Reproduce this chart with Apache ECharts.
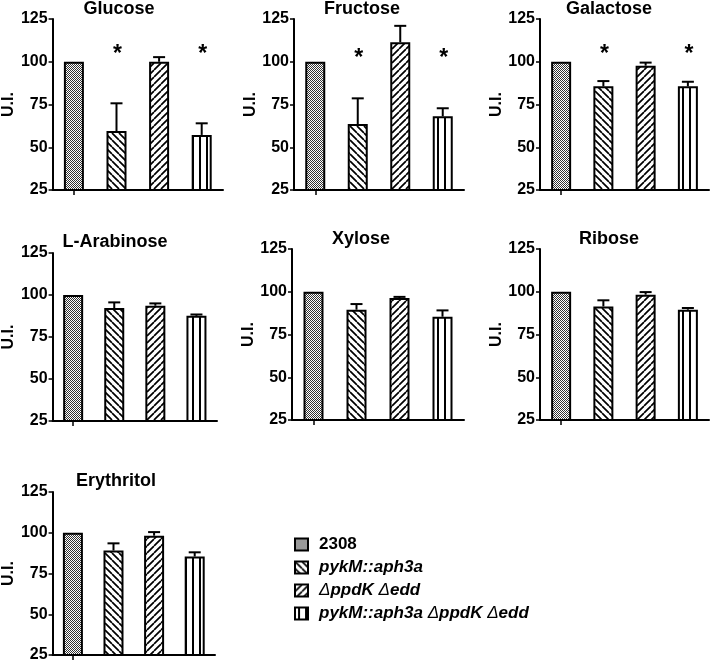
<!DOCTYPE html>
<html><head><meta charset="utf-8">
<script src="https://cdn.jsdelivr.net/npm/echarts@6/dist/echarts.min.js"></script>
<style>html,body{margin:0;padding:0;background:#fff}#c{width:714px;height:663px}</style>
</head><body><div id="c"></div>
<script>
// ---------- data ----------
const strains = ['2308', 'pykM::aph3a', 'ΔppdK Δedd', 'pykM::aph3a ΔppdK Δedd'];
const panelTitles = ['Glucose', 'Fructose', 'Galactose', 'L-Arabinose', 'Xylose', 'Ribose', 'Erythritol'];
const yTicks = [25, 50, 75, 100, 125];

const glucose        = [100, 59.5, 100, 57.2];
const glucoseErr     = [null, 75.7, 102.7, 64];
const fructose       = [100, 63.6, 111.4, 68.1];
const fructoseErr    = [null, 78.6, 121, 72.8];
const galactose      = [100, 85.6, 97.7, 85.6];
const galactoseErr   = [null, 88.7, 99.5, 88.3];
const arabinose      = [100, 92.2, 93.6, 87.6];
const arabinoseErr   = [null, 95.6, 95, 88.4];
const xylose         = [100, 89.5, 96.3, 85.4];
const xyloseErr      = [null, 92.8, 97, 89.1];
const ribose         = [100, 91.4, 98.3, 89.5];
const riboseErr      = [null, 95, 99.8, 90.5];
const erythritol     = [100, 89.1, 98.2, 85.4];
const erythritolErr  = [null, 93.5, 100.4, 88];

const panelMeans = [glucose, fructose, galactose, arabinose, xylose, ribose, erythritol];
const panelErrTops = [glucoseErr, fructoseErr, galactoseErr, arabinoseErr, xyloseErr, riboseErr, erythritolErr];
const significant = [[1, 3], [1, 3], [1, 3], [], [], [], []];
const starLevel = [107, 105, 107, null, null, null, null];

// ---------- layout (positions / sizes) ----------
const layout = [
  {left: 51,  top: 19,  width: 172, height: 171, tx: 119, ty: 9},
  {left: 294, top: 19,  width: 170, height: 171, tx: 362, ty: 9},
  {left: 540, top: 19,  width: 169, height: 171, tx: 609, ty: 9},
  {left: 49,  top: 253, width: 168, height: 168, tx: 115, ty: 242},
  {left: 292, top: 249, width: 172, height: 171, tx: 361, ty: 239},
  {left: 540, top: 249, width: 169, height: 171, tx: 609, ty: 239},
  {left: 49,  top: 492, width: 166, height: 165, tx: 116, ty: 481}
];
const FONT = '"Liberation Sans", Arial, Helvetica, sans-serif';

// ---------- fill patterns ----------
function makePattern(kind) {
  const c = document.createElement('canvas');
  const ctx = c.getContext('2d');
  if (kind === 'checker') {
    c.width = 2; c.height = 2;
    ctx.fillStyle = '#ffffff'; ctx.fillRect(0, 0, 2, 2);
    ctx.fillStyle = '#333333'; ctx.fillRect(0, 0, 1, 1); ctx.fillRect(1, 1, 1, 1);
  } else if (kind === 'vert') {
    c.width = 7; c.height = 7;
    ctx.fillStyle = '#fff'; ctx.fillRect(0, 0, 7, 7);
    ctx.fillStyle = '#000'; ctx.fillRect(3, 0, 2, 7);
  } else {
    const s = 7;
    c.width = s; c.height = s;
    ctx.fillStyle = '#fff'; ctx.fillRect(0, 0, s, s);
    ctx.strokeStyle = '#000'; ctx.lineWidth = 1.7;
    ctx.beginPath();
    if (kind === 'back') {
      [-s, 0, s].forEach(k => { ctx.moveTo(k, 0); ctx.lineTo(k + s, s); });
    } else {
      [0, s, 2 * s].forEach(k => { ctx.moveTo(k, 0); ctx.lineTo(k - s, s); });
    }
    ctx.stroke();
  }
  return {image: c, repeat: 'repeat'};
}
const patterns = [makePattern('checker'), makePattern('back'), makePattern('fwd'), makePattern('vert')];

// ---------- option ----------
const grids = [], xAxes = [], yAxes = [], series = [], graphics = [];
panelTitles.forEach((title, i) => {
  const L = layout[i];
  grids.push({left: L.left, top: L.top, width: L.width, height: L.height, containLabel: false});
  xAxes.push({
    type: 'category', gridIndex: i, data: strains,
    axisLine: {show: true, lineStyle: {color: '#000', width: 2}},
    axisTick: {show: true, alignWithLabel: true, length: 5, lineStyle: {color: '#000', width: 1.5}},
    axisLabel: {show: false}, splitLine: {show: false}
  });
  yAxes.push({
    type: 'value', gridIndex: i, min: yTicks[0], max: yTicks[yTicks.length - 1], interval: 25,
    name: 'U.I.', nameLocation: 'middle', nameGap: 33,
    nameTextStyle: {fontFamily: FONT, fontWeight: 'bold', fontSize: 16, color: '#000'},
    axisLine: {show: true, lineStyle: {color: '#000', width: 2}},
    axisTick: {show: true, length: 4, lineStyle: {color: '#000', width: 1.5}},
    axisLabel: {fontFamily: FONT, fontWeight: 'bold', fontSize: 16, color: '#000', margin: 5},
    splitLine: {show: false}
  });
  const means = panelMeans[i];
  strains.forEach((s, j) => {
    series.push({
      type: 'bar', name: s, xAxisIndex: i, yAxisIndex: i,
      data: means.map((v, k) => (k === j ? v : '-')),
      barWidth: 20, barGap: '-100%', silent: true,
      itemStyle: {color: patterns[j], borderColor: '#000', borderWidth: 2}
    });
  });
  const errData = [];
  panelErrTops[i].forEach((t, k) => { if (t != null) errData.push([k, means[k], t]); });
  series.push({
    type: 'custom', name: 'err' + i, xAxisIndex: i, yAxisIndex: i, silent: true, z: 5,
    data: errData,
    renderItem: function (params, api) {
      const p0 = api.coord([api.value(0), api.value(1)]);
      const p1 = api.coord([api.value(0), api.value(2)]);
      return {type: 'group', children: [
        {type: 'line', shape: {x1: p0[0], y1: p0[1], x2: p1[0], y2: p1[1]}, style: {stroke: '#000', lineWidth: 2}},
        {type: 'line', shape: {x1: p1[0] - 6, y1: p1[1], x2: p1[0] + 6, y2: p1[1]}, style: {stroke: '#000', lineWidth: 2}}
      ]};
    }
  });
  if (significant[i].length) {
    series.push({
      type: 'custom', name: 'sig' + i, xAxisIndex: i, yAxisIndex: i, silent: true, z: 5,
      data: significant[i].map(k => [k, starLevel[i]]),
      renderItem: function (params, api) {
        const p = api.coord([api.value(0), api.value(1)]);
        return {type: 'text', x: p[0] + 1, y: p[1] + 5, style: {
          text: '*', font: 'bold 23px ' + FONT, fill: '#000',
          textAlign: 'center', textVerticalAlign: 'middle'
        }};
      }
    });
  }
  graphics.push({
    type: 'text', x: L.tx, y: L.ty, silent: true,
    style: {text: title, font: 'bold 18px ' + FONT, fill: '#000', textAlign: 'center', textVerticalAlign: 'middle'}
  });
});

const option = {
  animation: false,
  backgroundColor: '#fff',
  grid: grids, xAxis: xAxes, yAxis: yAxes, series: series,
  graphic: graphics,
  legend: {
    data: strains, orient: 'vertical', left: 289, top: 531,
    itemWidth: 13, itemHeight: 12, itemGap: 6, icon: 'rect', selectedMode: false,
    itemStyle: {borderColor: '#000', borderWidth: 2},
    formatter: function (name) {
      if (name === '2308') return '{n|2308}';
      if (name === 'pykM::aph3a') return '{i0|pykM::aph3a}';
      if (name === 'ΔppdK Δedd') return '{d0|Δ}{i|ppdK }{d|Δ}{i|edd}';
      return '{i0|pykM::aph3a }{d|Δ}{i|ppdK }{d|Δ}{i|edd}';
    },
    textStyle: {
      color: '#000', fontFamily: FONT, fontSize: 17,
      rich: {
        n: {fontFamily: FONT, fontSize: 17, fontWeight: 'bold', color: '#000', padding: [0, 0, 0, 6]},
        i0: {fontFamily: FONT, fontSize: 17, fontWeight: 'bold', fontStyle: 'italic', color: '#000', padding: [0, 0, 0, 6]},
        d0: {fontFamily: FONT, fontSize: 17, fontWeight: 'normal', fontStyle: 'italic', color: '#000', padding: [0, 0, 0, 6]},
        i: {fontFamily: FONT, fontSize: 17, fontWeight: 'bold', fontStyle: 'italic', color: '#000'},
        d: {fontFamily: FONT, fontSize: 17, fontWeight: 'normal', fontStyle: 'italic', color: '#000'}
      }
    }
  }
};

const chart = echarts.init(document.getElementById('c'), null, {renderer: 'canvas'});
chart.setOption(option);
</script>
</body></html>
